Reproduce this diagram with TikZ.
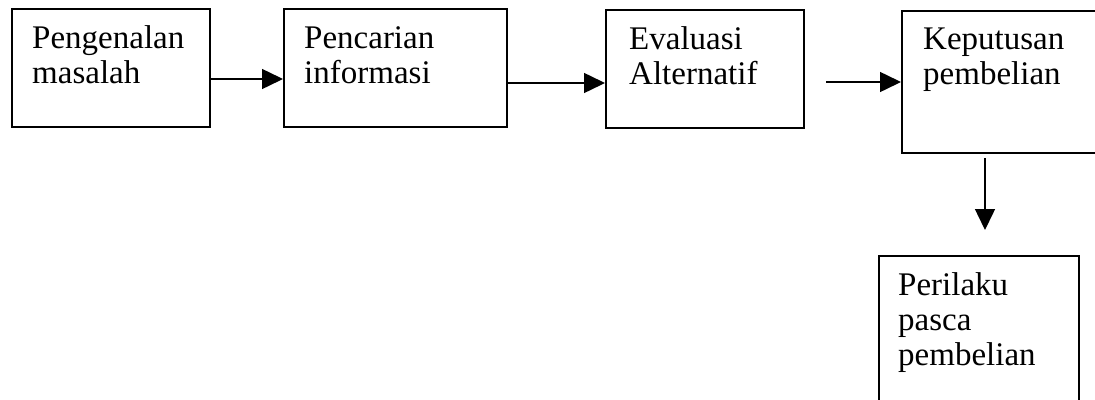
\documentclass[tikz,border=0pt]{standalone}
\usepackage{fontspec}
\setmainfont{Liberation Serif}
\usetikzlibrary{arrows.meta}
\begin{document}
\begin{tikzpicture}[x=1pt,y=-1pt,
  box/.style={draw, line width=1.8pt, inner sep=0pt, anchor=north west},
  lbl/.style={anchor=base west, inner sep=0pt, font=\fontsize{33}{35}\selectfont},
  conn/.style={line width=1.5pt, -{Triangle[length=21pt,width=20pt]}}]
\clip (0,0) rectangle (1095,399);
\fill[white] (0,0) rectangle (1095,399);
% boxes
\node[box, minimum width=198pt, minimum height=118pt] (b1) at (11,8) {};
\node[box, minimum width=223pt, minimum height=118pt] (b2) at (283,8) {};
\node[box, minimum width=198pt, minimum height=118pt] (b3) at (605,9) {};
\node[box, minimum width=215pt, minimum height=142pt] (b4) at (901,10) {};
\node[box, minimum width=200pt, minimum height=170pt] (b5) at (878,255) {};
% labels
\node[lbl] (t1) at (32,48) {\parbox[t]{170pt}{Pengenalan\\masalah}};
\node[lbl] (t2) at (304,48) {\parbox[t]{190pt}{Pencarian\\informasi}};
\node[lbl] (t3) at (629,49) {\parbox[t]{170pt}{Evaluasi\\Alternatif}};
\node[lbl] (t4) at (923,49) {\parbox[t]{170pt}{Keputusan\\pembelian}};
\node[lbl] (t5) at (898,295) {\parbox[t]{170pt}{Perilaku\\pasca\\pembelian}};
% connectors
\coordinate (s3) at (826,82);
\coordinate (d0) at (985,158);
\coordinate (d1) at (985,230);
\draw[conn] (b1.east |- 0,79) -- (b2.west |- 0,79);
\draw[conn] (b2.east |- 0,83) -- (b3.west |- 0,83);
\draw[conn] (s3) -- (b4.west |- s3);
\draw[conn] (d0) -- (d1);
\end{tikzpicture}
\end{document}
